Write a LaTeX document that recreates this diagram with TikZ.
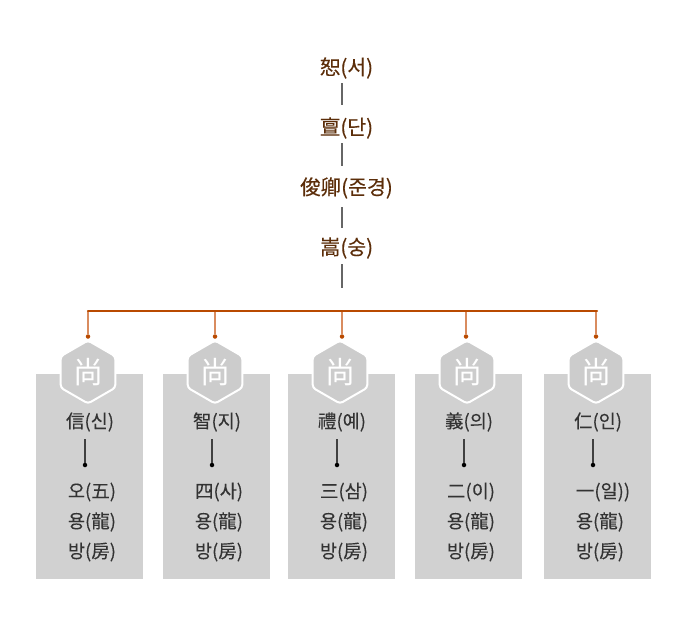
\documentclass[tikz,border=0pt]{standalone}
\usepackage{fontspec}
\setmainfont{Noto Sans CJK KR}
\newfontfamily\heavy[FakeBold=0.35]{Noto Sans CJK KR}
\newfontfamily\medium[FakeBold=0.12]{Noto Sans CJK KR}
\usetikzlibrary{shapes.geometric}
\definecolor{trunk}{HTML}{B94A00}
\definecolor{twig}{HTML}{D98C5F}
\definecolor{ink}{HTML}{5C2E0A}
\tikzset{
    elder/.style={text=ink,font=\heavy\fontsize{20.5}{20.5}\selectfont,inner sep=0pt},
    label/.style={text=black!80,font=\medium\fontsize{18.5}{18.5}\selectfont,inner sep=0pt},
    panel/.style={fill=black!18,minimum width=107,minimum height=205,inner sep=0pt,outer sep=0pt},
    badge/.style={regular polygon,regular polygon sides=6,regular polygon rotate=30,fill=black!20,draw=white,line width=2,
        minimum size=63,rounded corners=3,inner sep=0pt,text=white,font=\fontsize{30}{30}\selectfont},
    stem/.style={black!60,line width=2},
    drop/.style={twig,line width=2},
    bar/.style={black!75,line width=1.2},
    pin/.style={circle,fill=#1,minimum size=4.5,inner sep=0pt},
}
\begin{document}
\begin{tikzpicture}[x=1pt,y=-1pt]
    \useasboundingbox (0,0) rectangle (682,624);
    \foreach \n/\y/\t in {a/68/恕(서),b/128/亶(단),c/188/俊卿(준경),d/248/嵩(숭)}
        \node[elder] (elder\n) at (346.5,\y) {\t};
    \foreach \n/\ya/\yb in {a/83/105,b/143/166,c/207/228,d/264/288} {
        \coordinate (up\n) at (342,\ya);
        \coordinate (down\n) at (342,\yb);
        \draw[stem] (up\n) -- (down\n);
    }
    \coordinate (left) at (88,311);
    \coordinate (right) at (597,311);
    \foreach \n/\px/\hx/\dx/\bx/\tx/\lx/\one/\two in {
        1/89/88/88/85/90/92/오(五)/信(신),
        2/216/215/215/212/217/219/四(사)/智(지),
        3/341/340/342/337/342/344/三(삼)/禮(예),
        4/468/467/466/464/469/471/二(이)/義(의),
        5/597/596/596/593/598/603/一(일))/仁(인)}
    {
        \node[panel] (panel\n) at (\px.5,476.5) {};
        \coordinate (knot\n) at (\dx,311);
        \node[pin=trunk] (tip\n) at (\dx,336.5) {};
        \draw[drop] (knot\n) -- (tip\n);
        \node[badge] (badge\n) at (\hx,372) {尚};
        \node[label] (name\n) at (\tx,422) {\two};
        \coordinate (bartop\n) at (\bx,439);
        \node[pin=black] (bardot\n) at (\bx,465) {};
        \draw[bar] (bartop\n) -- (bardot\n);
        \node[label] (num\n) at (\lx,492) {\one};
    }
    \foreach \n/\lx in {1/92,2/219,3/344,4/471,5/600} {
        \node[label] (dragon\n) at (\lx,522) {용(龍)};
        \node[label] (room\n) at (\lx,552) {방(房)};
    }
    \draw[trunk,line width=2.2,line cap=round] (left) -- (right);
\end{tikzpicture}
\end{document}
